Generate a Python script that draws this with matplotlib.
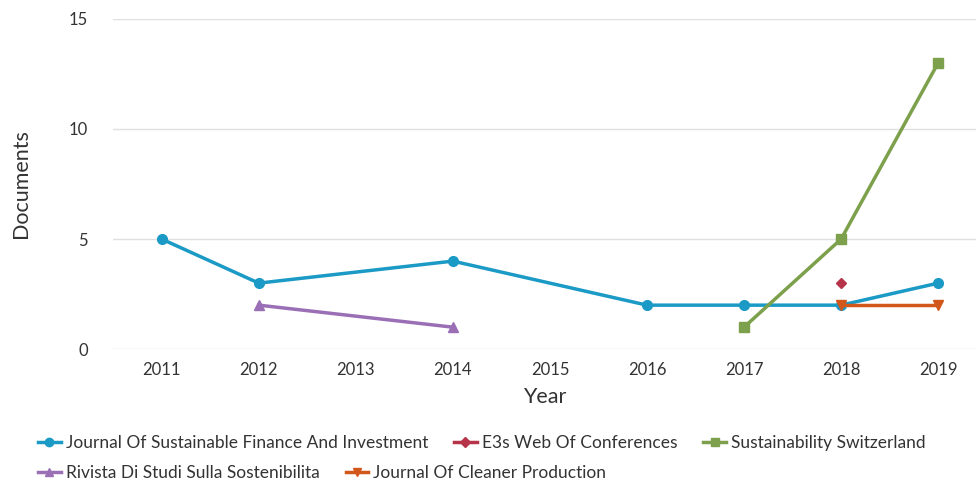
import matplotlib.pyplot as plt
from matplotlib.lines import Line2D

plt.rcParams['font.family'] = ['Lato', 'DejaVu Sans']

# Data
jsfi_years = [2011, 2012, 2014, 2016, 2017, 2018, 2019]
jsfi_docs = [5, 3, 4, 2, 2, 2, 3]
e3s_years = [2018]
e3s_docs = [3]
sust_years = [2017, 2018, 2019]
sust_docs = [1, 5, 13]
rivista_years = [2012, 2014]
rivista_docs = [2, 1]
jcp_years = [2018, 2019]
jcp_docs = [2, 2]

tick_years = list(range(2011, 2020))

fig = plt.figure(figsize=(9.76, 4.83), dpi=100)
ax = fig.add_axes([0.116, 0.277, 0.884, 0.684])

series = [
    ("Journal Of Sustainable Finance And Investment", jsfi_years, jsfi_docs, "#1b9ac6", "o", 7),
    ("Sustainability Switzerland", sust_years, sust_docs, "#7ca04b", "s", 7),
    ("Rivista Di Studi Sulla Sostenibilita", rivista_years, rivista_docs, "#9a6fb6", "^", 7),
    ("Journal Of Cleaner Production", jcp_years, jcp_docs, "#d2571b", "v", 7),
    ("E3s Web Of Conferences", e3s_years, e3s_docs, "#b5344a", "D", 5),
]
for name, xs, ys, col, mk, ms in series:
    ax.plot(xs, ys, color=col, marker=mk, markersize=ms, linewidth=2.5, zorder=3)
# overlap point at 2018 shows grey-ish
ax.plot([2018], [2], marker="o", color="#6f6f6f", markersize=6, zorder=2)

ax.set_xlim(2010.5, 2019.39)
ax.set_ylim(0, 15)
ax.set_yticks([0, 5, 10, 15])
ax.set_xticks(tick_years)
ax.grid(axis="y", color="#e0e0e0", linewidth=1)
ax.set_axisbelow(True)
for s in ax.spines.values():
    s.set_visible(False)
ax.tick_params(length=0, labelsize=12, colors="#333333")
ax.tick_params(axis="y", pad=18)
ax.tick_params(axis="x", pad=9)
ax.set_xlabel("Year", fontsize=15.5, color="#333333", labelpad=7)
ax.set_ylabel("Documents", fontsize=15.5, color="#333333", labelpad=27)

def handle(col, mk, ms):
    return Line2D([], [], color=col, marker=mk, markersize=ms, linewidth=2.5)

row1 = [("Journal Of Sustainable Finance And Investment", "#1b9ac6", "o", 6),
        ("E3s Web Of Conferences", "#b5344a", "D", 5),
        ("Sustainability Switzerland", "#7ca04b", "s", 6)]
row2 = [("Rivista Di Studi Sulla Sostenibilita", "#9a6fb6", "^", 6),
        ("Journal Of Cleaner Production", "#d2571b", "v", 6)]

for row, y in [(row1, 0.083), (row2, 0.021)]:
    leg = fig.legend([handle(c, m, s) for _, c, m, s in row], [n for n, _, _, _ in row],
                     loc="center left", bbox_to_anchor=(0.03, y), ncol=len(row),
                     frameon=False, fontsize=12.5, handlelength=1.3, handletextpad=0.3,
                     columnspacing=1.5, borderpad=0, labelcolor="#333333")

fig.savefig("out.png", dpi=100)
